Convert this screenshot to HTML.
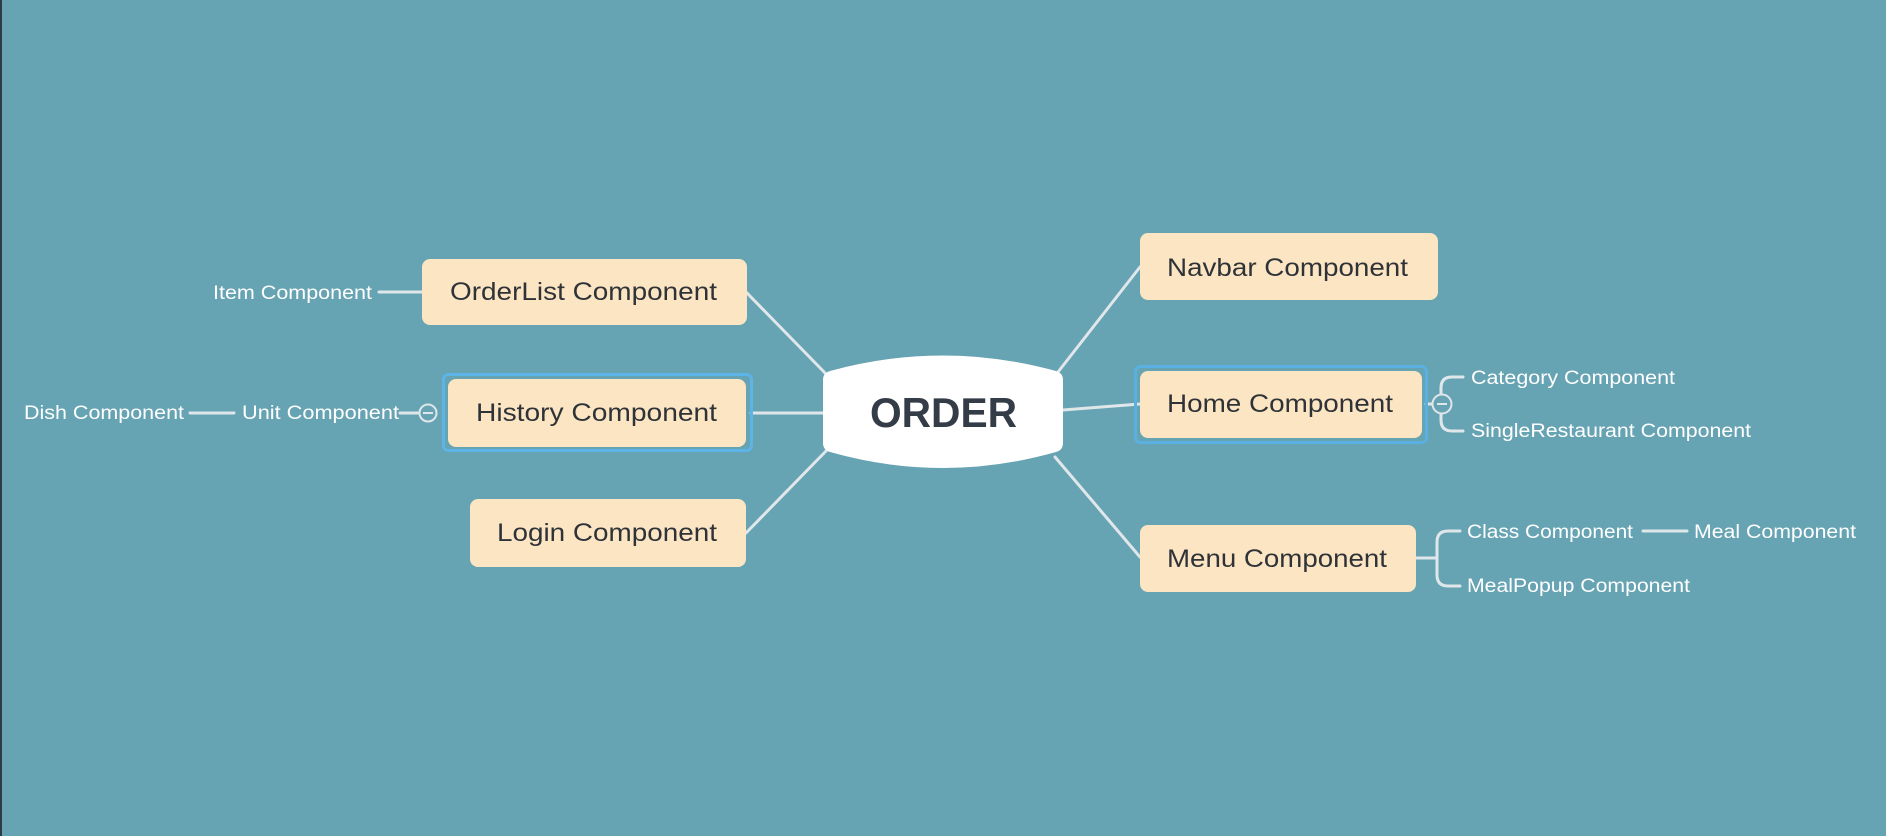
<!DOCTYPE html>
<html><head><meta charset="utf-8"><style>
html,body{margin:0;padding:0;background:#66a3b3;}
svg{display:block}
.n{font-family:"Liberation Sans",sans-serif;font-size:25px;fill:#2f3338;}
.s{font-family:"Liberation Sans",sans-serif;font-size:19px;fill:#ffffff;}
</style></head><body>
<svg width="1886" height="836" viewBox="0 0 1886 836" xmlns="http://www.w3.org/2000/svg">
<rect width="1886" height="836" fill="#66a3b3"/>
<rect x="0" y="0" width="2" height="836" fill="#2d3b44"/>
<g stroke="#dfe7ea" stroke-width="3" fill="none" stroke-linecap="round">
<line x1="746" y1="292" x2="827" y2="375"/>
<line x1="751" y1="413" x2="823" y2="413"/>
<line x1="746" y1="533" x2="827" y2="450"/>
<line x1="1058" y1="372" x2="1140" y2="267"/>
<line x1="1063" y1="410" x2="1140" y2="404"/>
<line x1="1055" y1="457" x2="1140" y2="557"/>
<line x1="379" y1="292" x2="422" y2="292"/>
<line x1="190" y1="413" x2="234" y2="413"/>
<line x1="400" y1="413" x2="418" y2="413"/>
<line x1="1426" y1="404" x2="1432" y2="404"/>
<path d="M1463 377 H1452 Q1441 377 1441 388 V394 M1441 413 V420 Q1441 431 1452 431 H1463"/>
<line x1="1416" y1="558" x2="1437" y2="558"/>
<path d="M1460 531 H1448 Q1437 531 1437 542 V575 Q1437 586 1448 586 H1460"/>
<line x1="1643" y1="531" x2="1687" y2="531"/>
</g>
<circle cx="428" cy="413" r="8.5" fill="none" stroke="#dfe7ea" stroke-width="2"/>
<line x1="423" y1="413" x2="433" y2="413" stroke="#dfe7ea" stroke-width="2"/>
<circle cx="1442" cy="404" r="9.5" fill="#66a3b3" stroke="#dfe7ea" stroke-width="2"/>
<line x1="1437" y1="404" x2="1447" y2="404" stroke="#dfe7ea" stroke-width="2"/>
<path d="M823 380 Q823 373 830 371 Q943 340 1056 371 Q1063 373 1063 380 V443 Q1063 450 1056 452 Q943 484 830 452 Q823 450 823 443 Z" fill="#ffffff"/>
<text x="870" y="427" font-family="Liberation Sans,sans-serif" font-weight="bold" font-size="42" fill="#343c48" textLength="147" lengthAdjust="spacingAndGlyphs">ORDER</text>
<rect x="443.5" y="374.5" width="308" height="76" rx="5" fill="none" stroke="#5db4e6" stroke-width="3"/>
<rect x="1135.5" y="366.5" width="291" height="76" rx="5" fill="none" stroke="#5ab0e0" stroke-width="3"/>
<g fill="#fbe5c3">
<rect x="422" y="259" width="325" height="66" rx="8"/>
<rect x="448" y="379" width="298" height="68" rx="8"/>
<rect x="470" y="499" width="276" height="68" rx="8"/>
<rect x="1140" y="233" width="298" height="67" rx="8"/>
<rect x="1140" y="371" width="282" height="67" rx="8"/>
<rect x="1140" y="525" width="276" height="67" rx="8"/>
</g>
<text class="n" x="450" y="300" textLength="267" lengthAdjust="spacingAndGlyphs">OrderList Component</text>
<text class="n" x="476" y="421" textLength="241" lengthAdjust="spacingAndGlyphs">History Component</text>
<text class="n" x="497" y="541" textLength="220" lengthAdjust="spacingAndGlyphs">Login Component</text>
<text class="n" x="1167" y="276" textLength="241" lengthAdjust="spacingAndGlyphs">Navbar Component</text>
<text class="n" x="1167" y="412" textLength="226" lengthAdjust="spacingAndGlyphs">Home Component</text>
<text class="n" x="1167" y="567" textLength="220" lengthAdjust="spacingAndGlyphs">Menu Component</text>
<text class="s" x="213" y="299" textLength="159" lengthAdjust="spacingAndGlyphs">Item Component</text>
<text class="s" x="24" y="419" textLength="160" lengthAdjust="spacingAndGlyphs">Dish Component</text>
<text class="s" x="242" y="419" textLength="157" lengthAdjust="spacingAndGlyphs">Unit Component</text>
<text class="s" x="1471" y="384" textLength="204" lengthAdjust="spacingAndGlyphs">Category Component</text>
<text class="s" x="1471" y="437" textLength="280" lengthAdjust="spacingAndGlyphs">SingleRestaurant Component</text>
<text class="s" x="1467" y="538" textLength="166" lengthAdjust="spacingAndGlyphs">Class Component</text>
<text class="s" x="1694" y="538" textLength="162" lengthAdjust="spacingAndGlyphs">Meal Component</text>
<text class="s" x="1467" y="592" textLength="223" lengthAdjust="spacingAndGlyphs">MealPopup Component</text>
</svg>
</body></html>
